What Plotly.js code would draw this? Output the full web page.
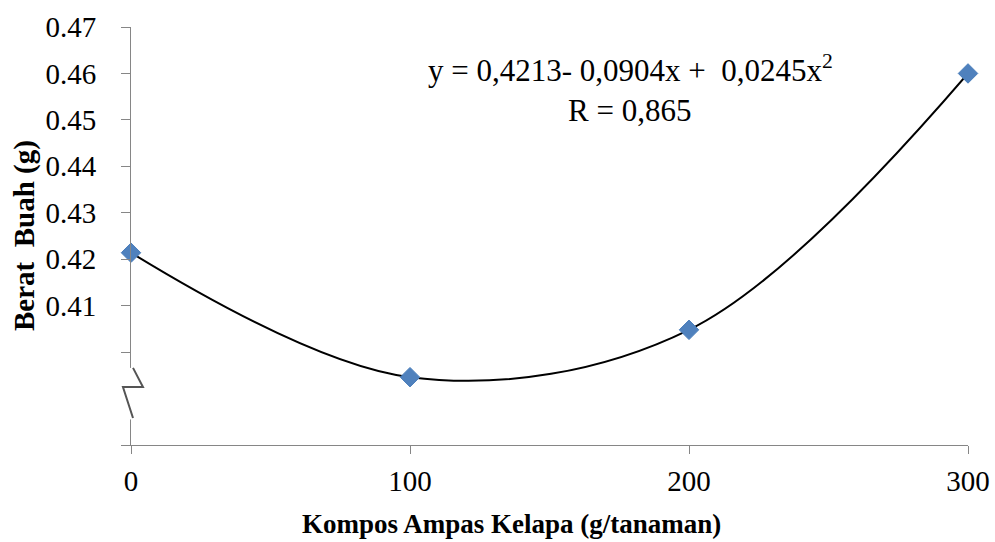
<!DOCTYPE html>
<html>
<head>
<meta charset="utf-8">
<script src="https://cdn.plot.ly/plotly-3.0.1.min.js"></script>
<style>html,body{margin:0;padding:0;background:#fff;}#chart{width:995px;height:542px;}</style>
</head>
<body>
<div id="chart"></div>
<script>
// Data
const kompos = [0, 100, 200, 300];           // Kompos Ampas Kelapa (g/tanaman)
const beratBuah = [0.4214, 0.3946, 0.4048, 0.4600]; // Berat Buah (g)
const yTickVals = [0.38, 0.40, 0.41, 0.42, 0.43, 0.44, 0.45, 0.46, 0.47];
const yTickText = ['', '', '0.41', '0.42', '0.43', '0.44', '0.45', '0.46', '0.47'];
const xTickVals = [0, 100, 200, 300];
const xTickText = ['0', '100', '200', '300'];
const equationLine = 'y = 0,4213- 0,0904x + \u00a00,0245x<sup>2</sup>';
const rLine = 'R = 0,865';

const FONT = '"Liberation Serif", "Times New Roman", serif';
const axisGrey = '#868686';

const traces = [
  {
    x: kompos, y: beratBuah, type: 'scatter', mode: 'lines',
    line: {shape: 'spline', smoothing: 1, color: '#000000', width: 2},
    cliponaxis: false, hoverinfo: 'skip', showlegend: false
  },
  {
    x: kompos, y: beratBuah, type: 'scatter', mode: 'markers',
    marker: {symbol: 'diamond', size: 15, color: '#4F81BD', line: {color: '#4A7EBB', width: 1}},
    cliponaxis: false, showlegend: false
  }
];

const layout = {
  width: 995, height: 542,
  margin: {l: 131, r: 27, t: 27, b: 97},
  paper_bgcolor: '#ffffff', plot_bgcolor: '#ffffff',
  font: {family: FONT, color: '#000000', size: 29},
  showlegend: false,
  xaxis: {
    range: [0, 300], tickvals: xTickVals, ticktext: xTickText,
    showline: true, linecolor: axisGrey, linewidth: 1,
    ticks: 'outside', ticklen: 8, tickcolor: axisGrey, tickwidth: 1,
    showgrid: false, zeroline: false, ticklabelstandoff: 2,
    tickfont: {family: FONT, size: 29, color: '#000000'}
  },
  yaxis: {
    range: [0.38, 0.47], tickvals: yTickVals, ticktext: yTickText,
    showline: true, linecolor: axisGrey, linewidth: 1,
    ticks: 'outside', ticklen: 9, tickcolor: axisGrey, tickwidth: 1,
    showgrid: false, zeroline: false, ticklabelstandoff: 19,
    tickfont: {family: FONT, size: 29, color: '#000000'}
  },
  annotations: [
    {text: equationLine, xref: 'paper', yref: 'paper', x: 0.597, y: 0.9,
     xanchor: 'center', yanchor: 'middle', showarrow: false, align: 'center',
     font: {family: FONT, size: 31, color: '#000000'}},
    {text: rLine, xref: 'paper', yref: 'paper', x: 0.596, y: 0.8,
     xanchor: 'center', yanchor: 'middle', showarrow: false, align: 'center',
     font: {family: FONT, size: 31, color: '#000000'}},
    {text: '<b>Berat \u00a0Buah (g)</b>', xref: 'paper', yref: 'paper', x: -0.128, y: 0.502,
     xanchor: 'center', yanchor: 'middle', textangle: -90, showarrow: false,
     font: {family: FONT, size: 29, color: '#000000'}},
    {text: '<b>Kompos Ampas Kelapa (g/tanaman)</b>', xref: 'paper', yref: 'paper', x: 0.455, y: -0.19,
     xanchor: 'center', yanchor: 'middle', showarrow: false,
     font: {family: FONT, size: 27, color: '#000000'}}
  ],
  shapes: [
    {type: 'rect', xref: 'paper', yref: 'y', x0: -0.004, x1: 0.004, y0: 0.3855, y1: 0.3966,
     fillcolor: '#ffffff', line: {width: 0}, layer: 'above'},
    {type: 'path', xref: 'paper', yref: 'y',
     path: 'M 0.0024,0.3966 L 0.0143,0.3925 L -0.0096,0.3925 L 0.0024,0.3858',
     line: {color: '#555555', width: 2}, layer: 'above'}
  ]
};

Plotly.newPlot('chart', traces, layout, {staticPlot: true, displayModeBar: false});
</script>
</body>
</html>
